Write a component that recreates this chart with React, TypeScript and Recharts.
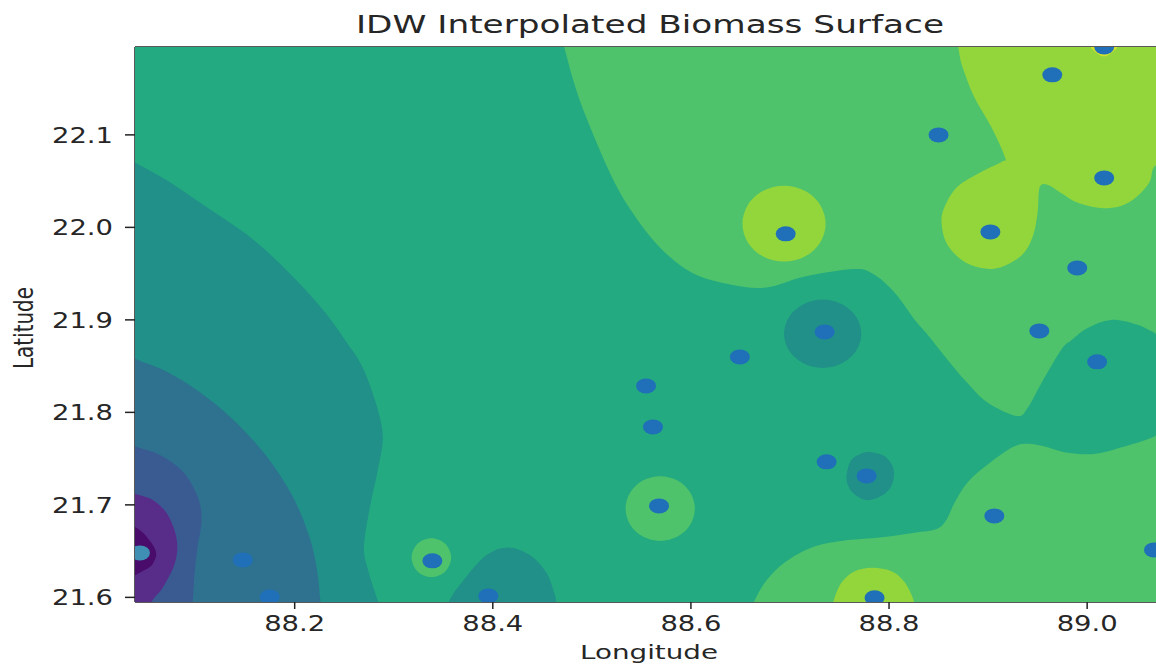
import { ReferenceLine, Scatter, ScatterChart, XAxis, YAxis } from "recharts";

type LonLat = [number, number];

const xTicks = [88.2, 88.4, 88.6, 88.8, 89.0];
const yTicks = [21.6, 21.7, 21.8, 21.9, 22.0, 22.1];
const lonDomain = [88.0388, 89.0695];
const latDomain = [21.595, 22.195];

// sample sites
const siteLons = [
  88.1476, 88.1748, 88.339, 88.3955, 88.5678, 88.5617, 88.5547, 88.6494, 88.735, 88.6957, 88.737, 88.7774,
  88.7854, 88.9063, 89.0101, 88.9517, 88.99, 88.9023, 89.0172, 88.9648, 88.85, 89.0172, 89.0675,
];
const siteLats = [
  21.6405, 21.6005, 21.6395, 21.6016, 21.6989, 21.7843, 21.8286, 21.86, 21.887, 21.993, 21.7465, 21.7313,
  21.5995, 21.6881, 21.8546, 21.8881, 21.9562, 21.9951, 22.0535, 22.1649, 22.1, 22.1951, 21.6513,
];
const lowestSite = [{ lon: 88.0438, lat: 21.6481 }];

// filled contour bands, lowest biomass first at the left edge
const baseBand: LonLat[] = [[87.95, 21.5], [89.2, 21.5], [89.2, 22.3], [87.95, 22.3]];

const band4: LonLat[] = [
  [88.014, 22.084], [88.039, 22.07], [88.071, 22.051], [88.111, 22.022], [88.158, 21.987], [88.198, 21.947],
  [88.23, 21.909], [88.251, 21.878], [88.268, 21.85], [88.282, 21.81], [88.289, 21.774], [88.284, 21.738],
  [88.276, 21.698], [88.27, 21.655], [88.274, 21.63], [88.284, 21.596], [88.291, 21.57], [88.014, 21.57],
];
const band3: LonLat[] = [
  [88.014, 21.873], [88.039, 21.858], [88.071, 21.844], [88.104, 21.822], [88.138, 21.792], [88.172, 21.752],
  [88.198, 21.709], [88.215, 21.665], [88.223, 21.627], [88.226, 21.596], [88.23, 21.57], [88.014, 21.57],
];
const band2: LonLat[] = [
  [88.014, 21.774], [88.039, 21.763], [88.064, 21.754], [88.087, 21.736], [88.102, 21.709], [88.106, 21.684],
  [88.102, 21.655], [88.099, 21.627], [88.097, 21.596], [88.094, 21.57], [88.014, 21.57],
];
const band1: LonLat[] = [
  [88.014, 21.722], [88.039, 21.712], [88.057, 21.705], [88.072, 21.689], [88.081, 21.662], [88.079, 21.637],
  [88.067, 21.611], [88.056, 21.596], [88.044, 21.57], [88.014, 21.57],
];
const band0: LonLat[] = [
  [88.014, 21.689], [88.039, 21.676], [88.051, 21.665], [88.06, 21.649], [88.056, 21.635], [88.044, 21.627],
  [88.039, 21.624], [88.014, 21.608],
];
const lowBlobBottom: LonLat[] = [
  [88.351, 21.57], [88.356, 21.596], [88.373, 21.622], [88.394, 21.646], [88.415, 21.654], [88.437, 21.646],
  [88.454, 21.627], [88.462, 21.605], [88.464, 21.595], [88.467, 21.57],
];
const lowBlobNorth: LonLat[] = [
  [88.694, 21.885], [88.6992, 21.9035], [88.7135, 21.917], [88.733, 21.922], [88.7525, 21.917], [88.7668, 21.9035],
  [88.772, 21.885], [88.7668, 21.8665], [88.7525, 21.853], [88.733, 21.848], [88.7135, 21.853], [88.6992, 21.8665],
];
const lowBlobSouth: LonLat[] = [
  [88.757, 21.73], [88.761, 21.747], [88.771, 21.755], [88.782, 21.757], [88.795, 21.753], [88.803, 21.743],
  [88.805, 21.731], [88.801, 21.718], [88.791, 21.709], [88.778, 21.705], [88.767, 21.71], [88.76, 21.718],
];
const upperGreen: LonLat[] = [
  [88.463, 22.224], [88.472, 22.195], [88.481, 22.16], [88.494, 22.12], [88.52, 22.055], [88.541, 22.016],
  [88.568, 21.979], [88.601, 21.951], [88.641, 21.938], [88.676, 21.935], [88.715, 21.947], [88.765, 21.955],
  [88.785, 21.949], [88.806, 21.929], [88.826, 21.9], [88.839, 21.884], [88.859, 21.857], [88.879, 21.832],
  [88.899, 21.811], [88.929, 21.796], [88.94, 21.805], [88.954, 21.832], [88.974, 21.868], [88.984, 21.878],
  [89.0, 21.891], [89.024, 21.9], [89.05, 21.895], [89.068, 21.886], [89.092, 21.873], [89.092, 22.224],
];
const lowerGreen: LonLat[] = [
  [88.659, 21.581], [88.664, 21.596], [88.676, 21.618], [88.695, 21.638], [88.722, 21.654], [88.752, 21.661],
  [88.793, 21.665], [88.826, 21.67], [88.848, 21.674], [88.858, 21.684], [88.866, 21.702], [88.879, 21.724],
  [88.899, 21.743], [88.924, 21.762], [88.94, 21.766], [88.957, 21.763], [88.977, 21.757], [89.007, 21.755],
  [89.034, 21.762], [89.068, 21.774], [89.097, 21.792], [89.097, 21.565], [88.653, 21.565],
];
const ringSite660: LonLat[] = [
  [88.534, 21.696], [88.5387, 21.7135], [88.5515, 21.7263], [88.569, 21.731], [88.5865, 21.7263], [88.5993, 21.7135],
  [88.604, 21.696], [88.5993, 21.6785], [88.5865, 21.6657], [88.569, 21.661], [88.5515, 21.6657], [88.5387, 21.6785],
];
const ringSite430: LonLat[] = [
  [88.318, 21.643], [88.324, 21.658], [88.338, 21.664], [88.352, 21.658], [88.358, 21.643], [88.352, 21.628],
  [88.338, 21.622], [88.324, 21.628],
];
const limeTopRight: LonLat[] = [
  [88.865, 22.224], [88.87, 22.194], [88.874, 22.174], [88.886, 22.141], [88.903, 22.109], [88.917, 22.076],
  [88.914, 22.071], [88.893, 22.06], [88.869, 22.044], [88.856, 22.022], [88.853, 22.005], [88.858, 21.983],
  [88.873, 21.965], [88.893, 21.956], [88.913, 21.957], [88.934, 21.97], [88.945, 21.99], [88.95, 22.016],
  [88.952, 22.043], [88.96, 22.046], [88.974, 22.037], [88.99, 22.027], [89.014, 22.021], [89.034, 22.023],
  [89.05, 22.033], [89.063, 22.049], [89.068, 22.066], [89.087, 22.084], [89.097, 22.224],
];
const limeCircle: LonLat[] = [
  [88.652, 22.004], [88.6576, 22.0245], [88.673, 22.0395], [88.694, 22.045], [88.715, 22.0395], [88.7304, 22.0245],
  [88.736, 22.004], [88.7304, 21.9835], [88.715, 21.9685], [88.694, 21.963], [88.673, 21.9685], [88.6576, 21.9835],
];
const limeBottom: LonLat[] = [
  [88.739, 21.57], [88.744, 21.596], [88.752, 21.616], [88.765, 21.628], [88.783, 21.632], [88.803, 21.628],
  [88.816, 21.616], [88.825, 21.596], [88.83, 21.57],
];
const yellowTop: LonLat[] = [
  [89.004, 22.197], [89.008, 22.19], [89.017, 22.185], [89.026, 22.19], [89.03, 22.197], [89.017, 22.208],
];

const bands: [LonLat[], string][] = [
  [baseBand, "#24aa80"],
  [band4, "#209089"],
  [band3, "#2e7290"],
  [band2, "#3a5a92"],
  [band1, "#582d8a"],
  [band0, "#4a0c6b"],
  [lowBlobBottom, "#209089"],
  [lowBlobNorth, "#209089"],
  [lowBlobSouth, "#209089"],
  [upperGreen, "#4ec36b"],
  [lowerGreen, "#4ec36b"],
  [ringSite660, "#4ec36b"],
  [ringSite430, "#4ec36b"],
  [limeTopRight, "#92d63c"],
  [limeCircle, "#92d63c"],
  [limeBottom, "#92d63c"],
  [yellowTop, "#d4e22c"],
];

const sites = siteLons.map((lon, i) => ({ lon, lat: siteLats[i] }));

const textColor = "#262626";
const font = "DejaVu Sans";

// closed Catmull-Rom through the contour vertices
const closedPath = (pts: { x: number; y: number }[]) => {
  const n = pts.length;
  let d = `M${pts[0].x},${pts[0].y}`;
  for (let i = 0; i < n; i++) {
    const p0 = pts[(i - 1 + n) % n];
    const p1 = pts[i];
    const p2 = pts[(i + 1) % n];
    const p3 = pts[(i + 2) % n];
    d += `C${p1.x + (p2.x - p0.x) / 6},${p1.y + (p2.y - p0.y) / 6} ${p2.x - (p3.x - p1.x) / 6},${p2.y - (p3.y - p1.y) / 6} ${p2.x},${p2.y}`;
  }
  return d + "Z";
};

const NoDot = () => null;

const XTick = ({ x, y, payload }: any) => (
  <text x={x} y={y + 20} textAnchor="middle" fontFamily={font} fontSize={21} fill={textColor} textLength={61} lengthAdjust="spacingAndGlyphs">
    {payload.value.toFixed(1)}
  </text>
);

const YTick = ({ x, y, payload }: any) => (
  <text x={x - 61} y={y + 8} fontFamily={font} fontSize={21} fill={textColor} textLength={61} lengthAdjust="spacingAndGlyphs">
    {payload.value.toFixed(1)}
  </text>
);

const App = () => {
  return (
    <div style={{ position: "absolute", left: 0, top: 0, width: 1156, height: 664, overflow: "hidden", background: "#fff" }}>
      <ScatterChart width={1156} height={664} margin={{ top: 47, right: 0, bottom: 0, left: 0 }}>
        <XAxis
          type="number"
          dataKey="lon"
          domain={lonDomain}
          ticks={xTicks}
          interval={0}
          allowDataOverflow
          height={62}
          tickSize={7}
          tick={XTick}
          tickLine={{ stroke: "#222", strokeWidth: 1.5 }}
          stroke="#222"
          strokeWidth={1.5}
          label={{
            content: () => (
              <text x={580} y={659} fontFamily={font} fontSize={20} fill={textColor} textLength={138} lengthAdjust="spacingAndGlyphs">
                Longitude
              </text>
            ),
          }}
        />
        <YAxis
          type="number"
          dataKey="lat"
          domain={latDomain}
          ticks={yTicks}
          interval={0}
          allowDataOverflow
          width={135}
          tickSize={10}
          tickMargin={12}
          tick={YTick}
          tickLine={{ stroke: "#222", strokeWidth: 1.5 }}
          stroke="#222"
          strokeWidth={1.5}
          label={{
            content: () => (
              <text
                transform="translate(33,369) rotate(-90)"
                fontFamily={font}
                fontSize={26}
                fill={textColor}
                textLength={82}
                lengthAdjust="spacingAndGlyphs"
              >
                Latitude
              </text>
            ),
          }}
        />
        {bands.map(([band, color], i) => (
          <Scatter
            key={`band-${i}`}
            data={band.map(([lon, lat]) => ({ lon, lat }))}
            isAnimationActive={false}
            shape={NoDot}
            line={(props: any) => <path d={closedPath(props.points)} fill={color} stroke="none" />}
          />
        ))}
        <Scatter
          data={sites}
          isAnimationActive={false}
          shape={(p: any) => <ellipse cx={p.cx} cy={p.cy} rx={10} ry={7.5} fill="#1f70b8" />}
        />
        <Scatter
          data={lowestSite}
          isAnimationActive={false}
          shape={(p: any) => <ellipse cx={p.cx} cy={p.cy} rx={10} ry={7.5} fill="#3f8fb4" />}
        />
        <ReferenceLine y={latDomain[1]} stroke="#222" strokeWidth={1.5} />
        <text x={356} y={33} fontFamily={font} fontSize={25} fill={textColor} textLength={588} lengthAdjust="spacingAndGlyphs">
          IDW Interpolated Biomass Surface
        </text>
      </ScatterChart>
    </div>
  );
};

export default App;
